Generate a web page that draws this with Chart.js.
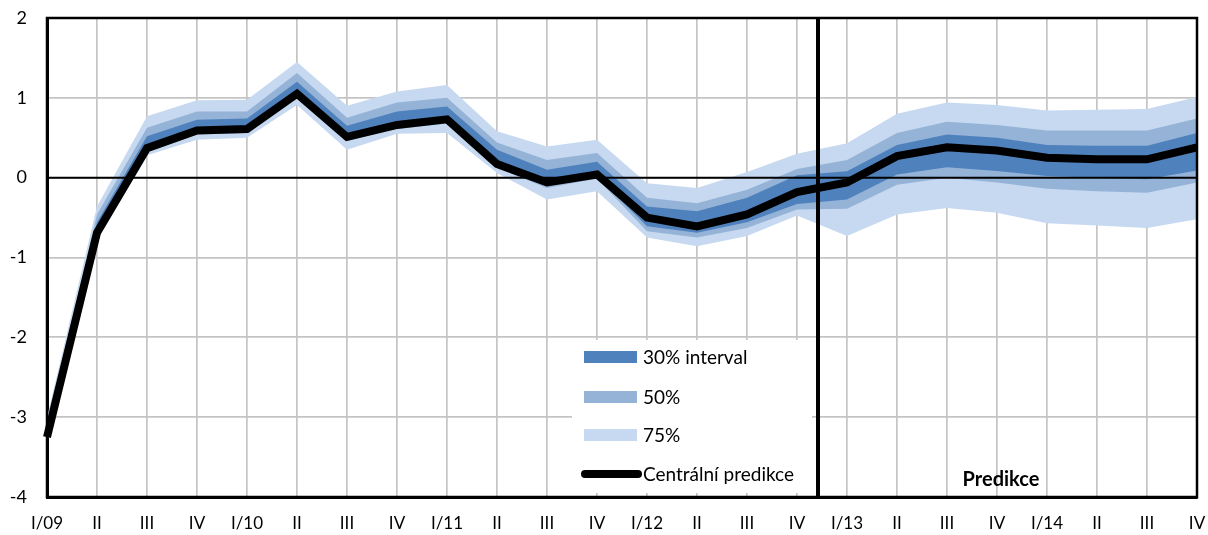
<!DOCTYPE html>
<html><head><meta charset="utf-8">
<script src="https://cdn.jsdelivr.net/npm/chart.js@4/dist/chart.umd.min.js"></script>
<style>html,body{margin:0;padding:0;background:#fff}#wrap{width:1208px;height:535px;position:relative}</style>
</head><body><div id="wrap"><canvas id="c" width="1208" height="535"></canvas></div>
<script>
const categories = ['I/09','II','III','IV','I/10','II','III','IV','I/11','II','III','IV','I/12','II','III','IV','I/13','II','III','IV','I/14','II','III','IV'];
const yTicks = [-4,-3,-2,-1,0,1,2];
const central = [-3.25,-0.69,0.37,0.59,0.61,1.05,0.51,0.66,0.73,0.17,-0.06,0.04,-0.5,-0.61,-0.46,-0.18,-0.06,0.27,0.38,0.34,0.25,0.23,0.23,0.38];
const band30Upper = [-3.15,-0.56,0.52,0.725,0.74,1.2,0.65,0.83,0.89,0.35,0.1,0.2,-0.36,-0.42,-0.25,0.03,0.08,0.41,0.54,0.5,0.41,0.40,0.40,0.56];
const band30Lower = [-3.28,-0.72,0.34,0.56,0.58,1.02,0.48,0.63,0.70,0.14,-0.09,0.01,-0.61,-0.69,-0.56,-0.33,-0.275,0.04,0.13,0.085,0.02,0.0,-0.02,0.09];
const band50Upper = [-3.1,-0.46,0.625,0.83,0.83,1.31,0.75,0.94,1.0,0.44,0.22,0.31,-0.25,-0.32,-0.15,0.11,0.22,0.56,0.70,0.66,0.59,0.59,0.59,0.74];
const band50Lower = [-3.3,-0.74,0.32,0.54,0.56,1.0,0.46,0.61,0.68,0.12,-0.13,-0.01,-0.67,-0.75,-0.63,-0.4,-0.39,-0.09,0.0,-0.06,-0.14,-0.17,-0.19,-0.06];
const band75Upper = [-3.0,-0.36,0.77,0.97,0.975,1.45,0.9,1.08,1.16,0.58,0.39,0.475,-0.07,-0.13,0.07,0.30,0.43,0.8,0.94,0.91,0.84,0.85,0.86,1.01];
const band75Lower = [-3.32,-0.78,0.28,0.475,0.5,0.91,0.35,0.55,0.56,0.06,-0.275,-0.17,-0.75,-0.86,-0.73,-0.475,-0.73,-0.46,-0.38,-0.44,-0.57,-0.6,-0.63,-0.52];
const forecastDivider = 15.42; // category position of the forecast start line
const forecastLabel = 'Predikce';

const C30 = '#4F81BD', C50 = '#95B3D7', C75 = '#C6D9F0';
const FONT = 'Lato, "Liberation Sans", sans-serif';

function band(label, data, color, fill, order){
  return {label, data, borderWidth:0, pointRadius:0, tension:0, fill, backgroundColor:color, borderColor:color, order};
}

const overlay = {
  id:'overlay',
  afterDatasetsDraw(chart){
    const {ctx, chartArea:a, scales:{x,y}} = chart;
    ctx.save();
    // zero line
    const y0 = y.getPixelForValue(0);
    ctx.strokeStyle = '#000'; ctx.lineWidth = 2;
    ctx.beginPath(); ctx.moveTo(a.left, y0); ctx.lineTo(a.right, y0); ctx.stroke();
    // legend box
    const bx = a.left + 525, by = a.top + 322, bw = 240, bh = 153;
    ctx.fillStyle = '#fff';
    ctx.fillRect(bx, by, bw, bh);
    ctx.font = '19px ' + FONT;
    ctx.textBaseline = 'middle'; ctx.textAlign = 'left';
    const items = chart.data.datasets;
    const rows = [
      {ds: items[1], dy: 17},
      {ds: items[3], dy: 57},
      {ds: items[5], dy: 95},
    ];
    rows.forEach(r => {
      ctx.fillStyle = r.ds.backgroundColor;
      ctx.fillRect(bx + 12, by + r.dy - 6, 53, 12);
      ctx.fillStyle = '#000';
      ctx.fillText(r.ds.label, bx + 71, by + r.dy + 1);
    });
    ctx.strokeStyle = '#000'; ctx.lineWidth = 8; ctx.lineCap = 'round';
    ctx.beginPath(); ctx.moveTo(bx + 13, by + 134); ctx.lineTo(bx + 66, by + 134); ctx.stroke();
    ctx.lineCap = 'butt';
    ctx.fillStyle = '#000';
    ctx.fillText(items[0].label, bx + 71, by + 135);
    // forecast divider
    const step = x.getPixelForValue(1) - x.getPixelForValue(0);
    const xd = x.getPixelForValue(Math.floor(forecastDivider)) + (forecastDivider % 1) * step;
    ctx.lineWidth = 4;
    ctx.beginPath(); ctx.moveTo(xd, a.top); ctx.lineTo(xd, a.bottom); ctx.stroke();
    // plot border
    ctx.lineWidth = 2.5;
    ctx.strokeRect(a.left, a.top, a.right - a.left, a.bottom - a.top);
    // forecast label
    ctx.font = 'bold 20px ' + FONT;
    ctx.textAlign = 'center';
    ctx.fillText(forecastLabel, x.getPixelForValue(19) + 4, a.bottom - 17);
    ctx.restore();
  }
};

new Chart(document.getElementById('c'), {
  type:'line',
  data:{
    labels: categories,
    datasets:[
      {label:'Centrální predikce', data: central, borderColor:'#000', backgroundColor:'#000', borderWidth:8, pointRadius:0, tension:0, fill:false, order:0, borderJoinStyle:'miter'},
      band('30% interval', band30Upper, C30, '+1', 1),
      band('30% lower', band30Lower, C30, false, 1),
      band('50%', band50Upper, C50, '+1', 2),
      band('50% lower', band50Lower, C50, false, 2),
      band('75%', band75Upper, C75, '+1', 3),
      band('75% lower', band75Lower, C75, false, 3),
    ]
  },
  options:{
    responsive:false,
    animation:false,
    layout:{padding:{top:18, right:11, left:0, bottom:0}},
    plugins:{legend:{display:false}, tooltip:{enabled:false}},
    scales:{
      x:{
        offset:false,
        grid:{color:'#C4C4C4', lineWidth:1.7, drawTicks:false},
        border:{display:true, color:'#000', width:3},
        ticks:{color:'#000', font:{family:FONT, size:17}, padding:16, maxRotation:0, autoSkip:false},
        afterFit: s => { s.height = 38; s.paddingLeft = 0; s.paddingRight = 0; }
      },
      y:{
        min:-4, max:2,
        afterBuildTicks: s => { s.ticks = yTicks.map(v => ({value:v})); },
        grid:{color:'#C4C4C4', lineWidth:1.7, drawTicks:false},
        border:{display:true, color:'#000', width:3},
        ticks:{color:'#000', font:{family:FONT, size:18}, padding:20},
        afterFit: s => { s.width = 47; s.paddingTop = 0; s.paddingBottom = 0; }
      }
    }
  },
  plugins:[overlay]
});
</script>
</body></html>
